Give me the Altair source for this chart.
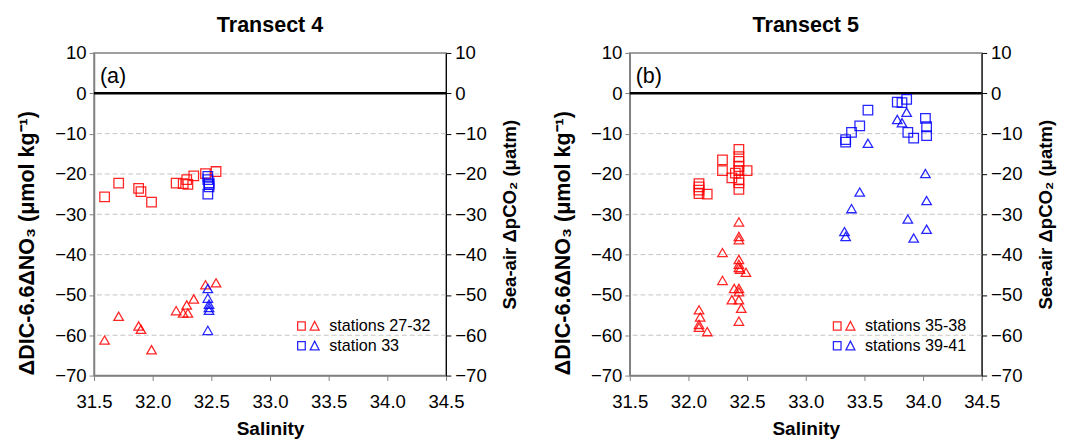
import altair as alt
import pandas as pd

FONT = "Liberation Sans"
RED = "#FF0000"
BLUE = "#0000FF"

# ---------------- Transect 4 ----------------
T4_GROUPS = ["stations 27-32", "station 33"]
T4_RED_SAL = [31.59, 31.71, 31.88, 31.90, 31.99, 32.20, 32.26, 32.29, 32.30, 32.35, 32.45, 32.54]
T4_RED_DIC = [-25.7, -22.3, -23.6, -24.4, -27.0, -22.3, -22.4, -21.4, -22.6, -20.5, -19.9, -19.4]
T4_RED_PCO2 = [-61.2, -55.3, -57.7, -58.5, -63.6, -53.9, -54.5, -52.5, -54.5, -51.0, -47.5, -47.0]
T4_BLUE_SAL = [32.47, 32.47, 32.48, 32.48, 32.48, 32.47]
T4_BLUE_DIC = [-20.6, -21.4, -22.2, -22.6, -23.2, -25.0]
T4_BLUE_PCO2 = [-48.4, -50.8, -52.3, -53.1, -53.8, -58.8]

# ---------------- Transect 5 ----------------
T5_GROUPS = ["stations 35-38", "stations 39-41"]
T5_RED_SQ_SAL = [32.09, 32.09, 32.09, 32.09, 32.16, 32.29, 32.29, 32.37, 32.40, 32.43,
                 32.43, 32.43, 32.43, 32.43, 32.43, 32.43, 32.43, 32.50]
T5_RED_DIC = [-22.4, -23.2, -24.0, -24.9, -25.0, -16.5, -19.2, -21.0, -19.8, -13.9,
              -15.7, -16.9, -18.2, -19.2, -21.4, -22.2, -23.8, -19.2]
T5_RED_TRI_SAL = [32.43, 32.43, 32.43, 32.29, 32.43, 32.43, 32.43, 32.44, 32.49, 32.29, 32.39,
                  32.43, 32.43, 32.37, 32.43, 32.45, 32.43, 32.09, 32.10, 32.09, 32.09, 32.16]
T5_RED_PCO2 = [-31.9, -35.5, -36.3, -39.5, -41.2, -42.4, -43.2, -43.6, -44.4, -46.4, -48.4,
               -48.4, -49.2, -51.2, -51.2, -53.3, -56.5, -53.7, -55.5, -57.3, -58.0, -59.1]
T5_BLUE_SAL = [33.34, 33.34, 33.39, 33.46, 33.53, 33.78, 33.82, 33.86, 33.87, 33.92, 34.02, 34.03, 34.03]
T5_BLUE_DIC = [-11.5, -12.1, -9.7, -8.1, -4.2, -2.2, -2.3, -1.5, -9.7, -11.1, -6.2, -8.3, -10.5]
T5_BLUE_TRI_SAL = [33.33, 33.34, 33.39, 33.46, 33.53, 33.78, 33.82, 33.86, 33.87, 33.92, 34.02, 34.03, 34.03]
T5_BLUE_PCO2 = [-34.3, -35.5, -28.6, -24.5, -12.4, -6.5, -7.3, -4.7, -31.2, -35.9, -19.9, -26.6, -33.7]

X_TICKS = [31.5, 32.0, 32.5, 33.0, 33.5, 34.0, 34.5]
Y_TICKS = [10, 0, -10, -20, -30, -40, -50, -60, -70]
GRID_LEVELS = [-10, -20, -30, -40, -50, -60]
ZERO_LEVEL = [0]

LEFT_TITLE = "ΔDIC-6.6ΔNO₃ (μmol kg⁻¹)"
RIGHT_TITLE = "Sea-air ΔpCO₂ (μatm)"
# square + triangle side by side, drawn wider than the nominal symbol box
LEGEND_PATH = ("M-1.83,-0.7L-0.53,-0.7L-0.53,0.7L-1.83,0.7Z "
               "M0.31,0.7L1.83,0.7L1.07,-0.77Z")


def make_df(parts):
    frames = []
    for group, kind, sal, vals in parts:
        frames.append(pd.DataFrame({"group": group, "kind": kind, "sal": sal, "val": vals}))
    return pd.concat(frames, ignore_index=True)


def panel(df, groups, title, tag):
    y_scale = alt.Scale(domain=[-70, 10], nice=False, zero=False)
    x_scale = alt.Scale(domain=[31.5, 34.5], nice=False, zero=False)

    grid = alt.Chart(pd.DataFrame({"lvl": GRID_LEVELS})).mark_rule(
        color="#c4c4c4", strokeDash=[5, 3], strokeWidth=1
    ).encode(y=alt.Y("lvl:Q", scale=y_scale, axis=None))

    zero = alt.Chart(pd.DataFrame({"lvl": ZERO_LEVEL})).mark_rule(
        color="black", strokeWidth=2.5
    ).encode(y=alt.Y("lvl:Q", scale=y_scale, axis=None))

    pts = alt.Chart(df).mark_point(filled=False, strokeWidth=1.3, opacity=0.85, size=95).encode(
        x=alt.X("sal:Q", scale=x_scale,
                axis=alt.Axis(values=X_TICKS, format=".1f", title="Salinity", orient="bottom",
                              tickSize=5, labelPadding=13, labelFontSize=19, titleFontSize=19.5,
                              titleFontWeight="bold", titlePadding=8, grid=False, labelFlush=False,
                              domainColor="#808080", tickColor="#808080", domainWidth=1.5)),
        y=alt.Y("val:Q", scale=y_scale,
                axis=alt.Axis(orient="left", values=Y_TICKS, title=LEFT_TITLE, tickSize=5,
                              labelPadding=3, labelFontSize=19, titleFontSize=22,
                              titleFontWeight="bold", titleX=-57, titleY=194,
                              titleAngle=270, titleBaseline="bottom", grid=False,
                              labelFlush=False,
                              domainColor="#808080", tickColor="#808080", domainWidth=1.5)),
        color=alt.Color("group:N", scale=alt.Scale(domain=groups, range=[RED, BLUE]),
                        legend=alt.Legend(title=None, orient="none", legendX=211, legendY=271,
                                          symbolType=LEGEND_PATH, symbolSize=144,
                                          symbolStrokeWidth=1.3, labelFont=FONT,
                                          labelFontSize=16.5, labelOffset=13, rowPadding=3.25,
                                          padding=0, labelColor="black")),
        shape=alt.Shape("kind:N", scale=alt.Scale(domain=["DIC", "pCO2"],
                                                  range=["square", "triangle-up"]), legend=None),
    )

    right = alt.Chart(pd.DataFrame({"lvl": ZERO_LEVEL})).mark_rule(opacity=0).encode(
        y=alt.Y("lvl:Q", scale=y_scale,
                axis=alt.Axis(orient="right", values=Y_TICKS, title=RIGHT_TITLE, tickSize=5,
                              labelPadding=4, labelFontSize=19, titleFontSize=19,
                              titleFontWeight="bold", titleAngle=270, titleBaseline="top",
                              titlePadding=15, labelFlush=False,
                              grid=False, domainColor="black", tickColor="black", domainWidth=1))
    )

    tagtxt = alt.Chart(pd.DataFrame({"t": [tag]})).mark_text(
        align="left", baseline="middle", fontSize=22, font=FONT, color="black"
    ).encode(text="t:N", x=alt.value(6), y=alt.value(24))

    return alt.layer(grid, zero, pts, right, tagtxt).resolve_axis(y="independent").properties(
        width=360, height=330,
        title=alt.TitleParams(title, font=FONT, fontSize=22, fontWeight="bold",
                              anchor="middle", offset=7, color="black"),
    )


df4 = make_df([
    (T4_GROUPS[0], "DIC", T4_RED_SAL, T4_RED_DIC),
    (T4_GROUPS[0], "pCO2", T4_RED_SAL, T4_RED_PCO2),
    (T4_GROUPS[1], "DIC", T4_BLUE_SAL, T4_BLUE_DIC),
    (T4_GROUPS[1], "pCO2", T4_BLUE_SAL, T4_BLUE_PCO2),
])
df5 = make_df([
    (T5_GROUPS[0], "DIC", T5_RED_SQ_SAL, T5_RED_DIC),
    (T5_GROUPS[0], "pCO2", T5_RED_TRI_SAL, T5_RED_PCO2),
    (T5_GROUPS[1], "DIC", T5_BLUE_SAL, T5_BLUE_DIC),
    (T5_GROUPS[1], "pCO2", T5_BLUE_TRI_SAL, T5_BLUE_PCO2),
])

chart = alt.hconcat(
    panel(df4, T4_GROUPS, "Transect 4", "(a)"),
    panel(df5, T5_GROUPS, "Transect 5", "(b)"),
    spacing=188, bounds="flush",
).resolve_scale(color="independent", shape="independent").properties(
    padding={"left": 7, "top": 1, "right": 2, "bottom": 0}
).configure_view(stroke="#808080", strokeWidth=1.5).configure_axis(
    labelFont=FONT, titleFont=FONT, labelColor="black", titleColor="black"
)

chart.save("out.html", embed_options={"renderer": "svg", "actions": False})
